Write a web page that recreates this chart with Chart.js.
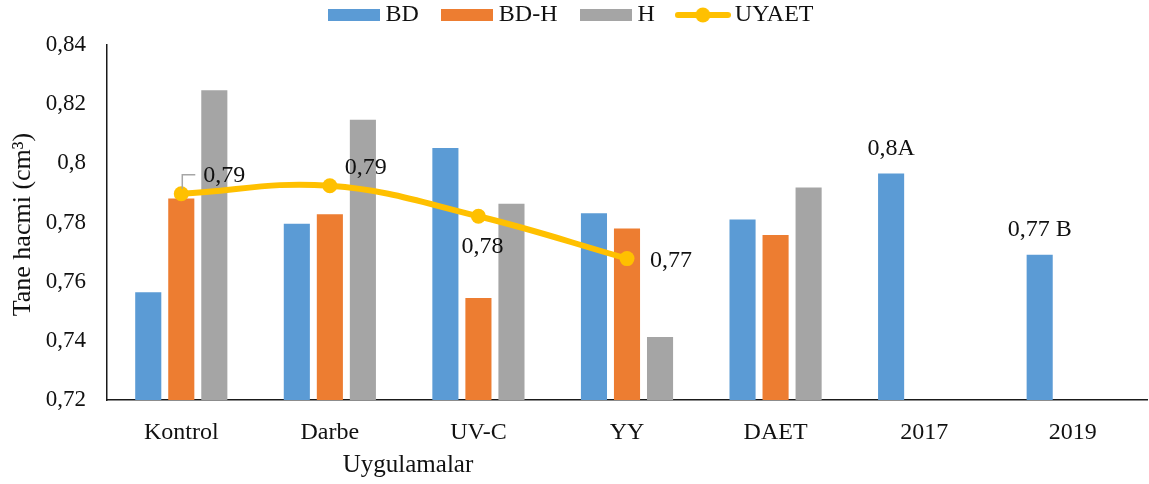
<!DOCTYPE html>
<html>
<head>
<meta charset="utf-8">
<script src="https://cdn.jsdelivr.net/npm/chart.js@4.4.1/dist/chart.umd.min.js"></script>
<style>
  html, body { margin: 0; padding: 0; background: #fff; }
  #wrap { width: 1149px; height: 484px; }
</style>
</head>
<body>
<div id="wrap"><canvas id="c" width="1149" height="484"></canvas></div>
<script>
// Treatments on the x axis
const categories = ['Kontrol', 'Darbe', 'UV-C', 'YY', 'DAET', '2017', '2019'];

// Grain volume (cm³) per treatment
const bdValues  = [0.7564, 0.7796, 0.8052, 0.7831, 0.7810, 0.7966, 0.7691];
const bdhValues = [0.7881, 0.7828, 0.7545, 0.7780, 0.7758, null, null];
const hValues   = [0.8247, 0.8147, 0.7863, 0.7413, 0.7918, null, null];
const uyaetValues = [0.7897, 0.7924, 0.7821, 0.7678, null, null, null];

// Significance letters shown after the BD year values
const bdLetters = [null, null, null, null, null, 'A', ' B'];

// Y axis tick values
const yTicks = [0.72, 0.74, 0.76, 0.78, 0.80, 0.82, 0.84];

const FONT = '"Liberation Serif", "Times New Roman", serif';
const COLORS = { bd: '#5B9BD5', bdh: '#ED7D31', h: '#A5A5A5', uyaet: '#FFC000' };

// Decimal comma, trailing zeros dropped
const fmt = v => String(Number(v.toFixed(2))).replace('.', ',');

// Small legend swatches
function rectSwatch(color) {
  const c = document.createElement('canvas');
  c.width = 52; c.height = 12;
  const g = c.getContext('2d');
  g.fillStyle = color;
  g.fillRect(0, 0, 52, 12);
  return c;
}
function lineSwatch(color) {
  const c = document.createElement('canvas');
  c.width = 56; c.height = 16;
  const g = c.getContext('2d');
  g.strokeStyle = color; g.lineWidth = 6; g.lineCap = 'round';
  g.beginPath(); g.moveTo(3, 8); g.lineTo(53, 8); g.stroke();
  g.fillStyle = color;
  g.beginPath(); g.arc(28, 8, 7.5, 0, Math.PI * 2); g.fill();
  return c;
}
const swatches = [rectSwatch(COLORS.bd), rectSwatch(COLORS.bdh), rectSwatch(COLORS.h), lineSwatch(COLORS.uyaet)];

// Fixed legend band height
const legendHeightPlugin = {
  id: 'legendHeight',
  beforeInit(chart) {
    const fit = chart.legend.fit;
    chart.legend.fit = function () {
      fit.call(this);
      this.height = 70;
    };
  }
};

// Value labels, axis titles
const annotatePlugin = {
  id: 'annotate',
  afterDatasetsDraw(chart) {
    const ctx = chart.ctx;
    ctx.save();
    ctx.fillStyle = '#111';
    ctx.font = '24px ' + FONT;

    // UYAET point labels
    const lineMeta = chart.getDatasetMeta(3);
    const offsets = [
      { dx: 22, dy: -18, align: 'left' },
      { dx: 15, dy: -18, align: 'left' },
      { dx: 4, dy: 30, align: 'center' },
      { dx: 23, dy: 2, align: 'left' }
    ];
    lineMeta.data.forEach((pt, i) => {
      const v = uyaetValues[i];
      if (v == null) return;
      const o = offsets[i];
      ctx.textAlign = o.align;
      ctx.textBaseline = 'middle';
      ctx.fillText(fmt(v), pt.x + o.dx, pt.y + o.dy);
      if (i === 0) {
        ctx.strokeStyle = '#A6A6A6';
        ctx.lineWidth = 1.5;
        ctx.beginPath();
        ctx.moveTo(pt.x + 1, pt.y - 5);
        ctx.lineTo(pt.x + 1, pt.y - 19);
        ctx.lineTo(pt.x + 14, pt.y - 19);
        ctx.stroke();
      }
    });

    // BD year labels
    const bdMeta = chart.getDatasetMeta(0);
    bdMeta.data.forEach((bar, i) => {
      if (!bdLetters[i]) return;
      ctx.textAlign = 'center';
      ctx.textBaseline = 'middle';
      ctx.fillText(fmt(bdValues[i]) + bdLetters[i], bar.x, bar.y - 25);
    });
    ctx.restore();
  },
  afterDraw(chart) {
    const ctx = chart.ctx;
    const area = chart.chartArea;
    ctx.save();
    ctx.fillStyle = '#111';
    ctx.textAlign = 'center';
    ctx.textBaseline = 'middle';
    ctx.font = '25px ' + FONT;
    ctx.fillText('Uygulamalar', 408, 465);
    ctx.font = '26px ' + FONT;
    ctx.translate(23, (area.top + area.bottom) / 2 + 2);
    ctx.rotate(-Math.PI / 2);
    ctx.fillText('Tane hacmi (cm³)', 0, 0);
    ctx.restore();
  }
};

const barCommon = { order: 1, categoryPercentage: 0.667, barPercentage: 0.79 };

new Chart(document.getElementById('c'), {
  type: 'bar',
  data: {
    labels: categories,
    datasets: [
      Object.assign({ label: 'BD', data: bdValues, backgroundColor: COLORS.bd }, barCommon),
      Object.assign({ label: 'BD-H', data: bdhValues, backgroundColor: COLORS.bdh }, barCommon),
      Object.assign({ label: 'H', data: hValues, backgroundColor: COLORS.h }, barCommon),
      {
        type: 'line', label: 'UYAET', data: uyaetValues, order: 0,
        borderColor: COLORS.uyaet, backgroundColor: COLORS.uyaet,
        borderWidth: 6, pointRadius: 7.5, pointHoverRadius: 7.5,
        pointBorderWidth: 0, tension: 0.4, fill: false
      }
    ]
  },
  options: {
    responsive: false,
    animation: false,
    devicePixelRatio: 1,
    layout: { autoPadding: false, padding: { top: -25, right: 2, bottom: 0, left: 0 } },
    plugins: {
      tooltip: { enabled: false },
      legend: {
        position: 'top',
        labels: {
          usePointStyle: true,
          pointStyleWidth: 40,
          boxHeight: 24,
          padding: 28,
          color: '#111',
          font: { family: FONT, size: 24 },
          generateLabels(chart) {
            return chart.data.datasets.map((ds, i) => ({
              text: ds.label,
              pointStyle: swatches[i],
              fillStyle: 'transparent',
              strokeStyle: 'transparent',
              lineWidth: 0,
              hidden: false,
              datasetIndex: i,
              fontColor: '#111'
            }));
          }
        }
      }
    },
    scales: {
      x: {
        grid: { display: false, drawTicks: false },
        border: { color: '#1a1a1a', width: 1.5 },
        ticks: { color: '#111', font: { family: FONT, size: 24 }, padding: 18, maxRotation: 0 },
        afterFit(s) { s.height = 84; s.paddingLeft = 0; s.paddingRight = 0; }
      },
      y: {
        min: 0.72, max: 0.84,
        grid: { display: false, drawTicks: false },
        border: { color: '#1a1a1a', width: 1.5 },
        afterBuildTicks(s) { s.ticks = yTicks.map(v => ({ value: v })); },
        ticks: {
          color: '#111', font: { family: FONT, size: 23 }, padding: 21,
          callback: v => fmt(v)
        },
        afterFit(s) { s.width = 107; s.paddingTop = 0; s.paddingBottom = 0; }
      }
    }
  },
  plugins: [legendHeightPlugin, annotatePlugin]
});
</script>
</body>
</html>
